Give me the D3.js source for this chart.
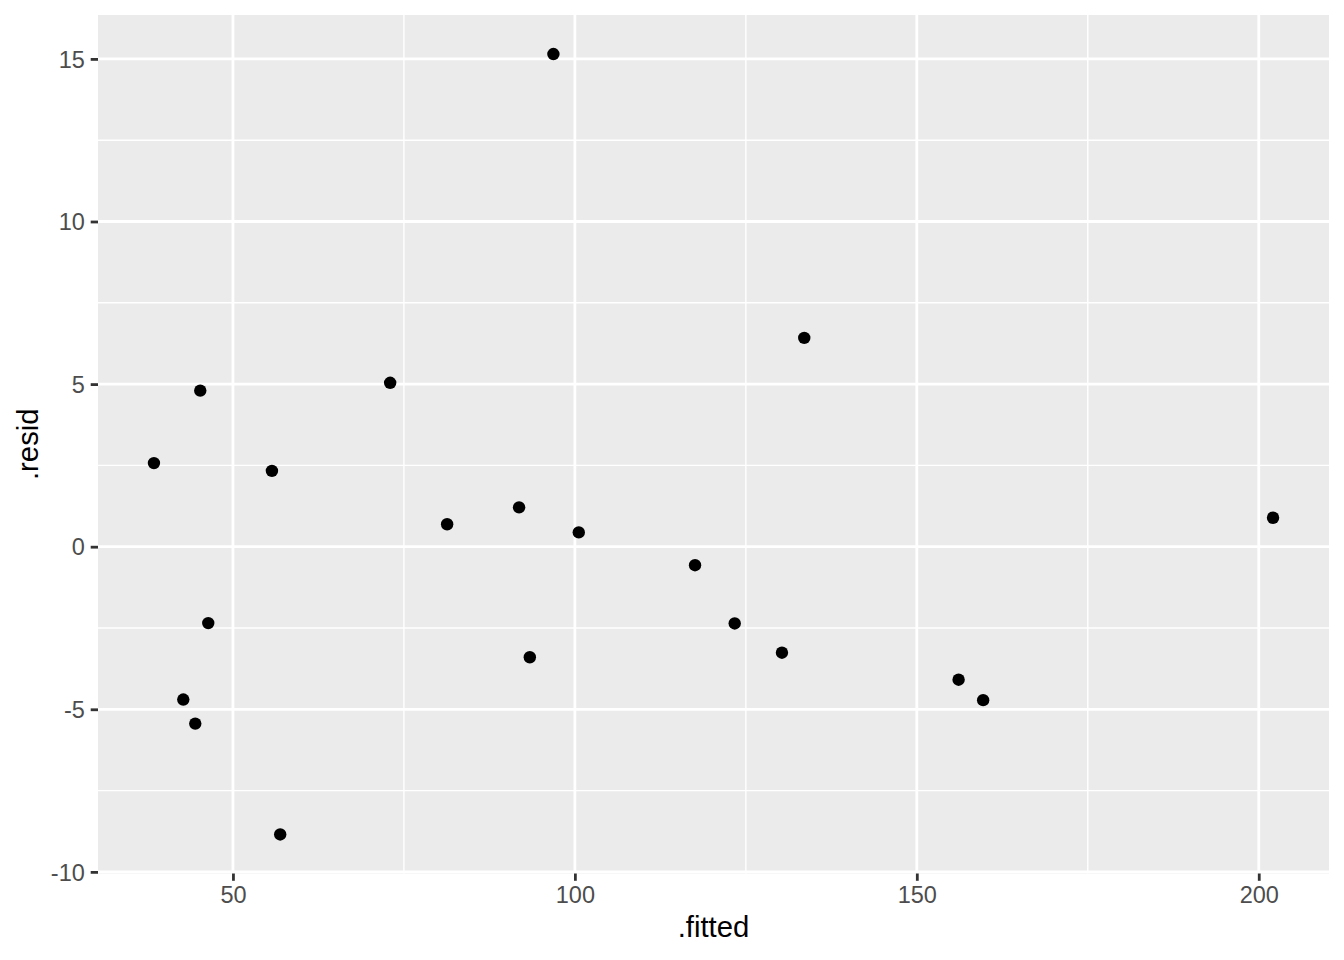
<!DOCTYPE html>
<html>
<head>
<meta charset="utf-8">
<script src="https://cdn.jsdelivr.net/npm/d3@7"></script>
<style>
  body { margin: 0; background: #fff; }
  text { font-family: "Liberation Sans", Arial, sans-serif; }
</style>
</head>
<body>
<svg id="chart"></svg>
<script>
const fitted = [38.45, 45.22, 55.70, 46.39, 42.74, 44.49, 56.91, 72.99, 81.32, 91.84,
                93.41, 96.86, 100.57, 117.57, 123.37, 130.28, 133.54, 156.11, 159.70, 202.09]
const resid = [2.57, 4.80, 2.33, -2.35, -4.70, -5.44, -8.85, 5.04, 0.69, 1.21,
               -3.40, 15.15, 0.44, -0.57, -2.36, -3.26, 6.42, -4.09, -4.72, 0.89]
const xTicks = [50, 100, 150, 200]
const xMinor = [75, 125, 175]
const yTicks = [-10, -5, 0, 5, 10, 15]
const yMinor = [-7.5, -2.5, 2.5, 7.5, 12.5]

const width = 1344
const height = 960
const panel = { left: 98, right: 1329, top: 15, bottom: 873.5 }

// ggplot style 5% expansion of the data range
const expand = (ext) => {
    const pad = (ext[1] - ext[0]) * 0.05
    return [ext[0] - pad, ext[1] + pad]
}

const x = d3.scaleLinear().domain(expand(d3.extent(fitted))).range([panel.left, panel.right])
const y = d3.scaleLinear().domain(expand(d3.extent(resid))).range([panel.bottom, panel.top])

const svg = d3.select('#chart').attr('width', width).attr('height', height)

svg.append('rect')
    .attr('x', panel.left).attr('y', panel.top)
    .attr('width', panel.right - panel.left).attr('height', panel.bottom - panel.top)
    .attr('fill', '#EBEBEB')

const grid = svg.append('g')
grid.selectAll('.xminor').data(xMinor).enter().append('line')
    .attr('x1', d => x(d)).attr('x2', d => x(d))
    .attr('y1', panel.top).attr('y2', panel.bottom)
    .attr('stroke', '#fff').attr('stroke-width', 1.4)
grid.selectAll('.yminor').data(yMinor).enter().append('line')
    .attr('y1', d => y(d)).attr('y2', d => y(d))
    .attr('x1', panel.left).attr('x2', panel.right)
    .attr('stroke', '#fff').attr('stroke-width', 1.4)
grid.selectAll('.xmajor').data(xTicks).enter().append('line')
    .attr('x1', d => x(d)).attr('x2', d => x(d))
    .attr('y1', panel.top).attr('y2', panel.bottom)
    .attr('stroke', '#fff').attr('stroke-width', 2.8)
grid.selectAll('.ymajor').data(yTicks).enter().append('line')
    .attr('y1', d => y(d)).attr('y2', d => y(d))
    .attr('x1', panel.left).attr('x2', panel.right)
    .attr('stroke', '#fff').attr('stroke-width', 2.8)

svg.append('g').selectAll('circle').data(fitted).enter().append('circle')
    .attr('cx', d => x(d))
    .attr('cy', (d, i) => y(resid[i]))
    .attr('r', 6.2)
    .attr('fill', '#000')

// axes
const xAxis = svg.append('g')
    .attr('transform', `translate(0,${panel.bottom})`)
    .call(d3.axisBottom(x).tickValues(xTicks).tickSize(7.3).tickPadding(5.9).tickFormat(d3.format('d')))
const yAxis = svg.append('g')
    .attr('transform', `translate(${panel.left},0)`)
    .call(d3.axisLeft(y).tickValues(yTicks).tickSize(7.3).tickPadding(5.9).tickFormat(d => d < 0 ? '-' + Math.abs(d) : d))

for (const ax of [xAxis, yAxis]) {
    ax.select('.domain').remove()
    ax.selectAll('line').attr('stroke', '#333333').attr('stroke-width', 2.8)
    ax.selectAll('text').attr('fill', '#4D4D4D').attr('font-size', 23.5)
        .attr('font-family', '"Liberation Sans", Arial, sans-serif')
}
yAxis.selectAll('text').attr('dy', '0.35em')

svg.append('text')
    .attr('x', (panel.left + panel.right) / 2).attr('y', 937)
    .attr('text-anchor', 'middle')
    .attr('font-size', 29.3)
    .attr('fill', '#000')
    .text('.fitted')

svg.append('text')
    .attr('transform', `translate(37.5,${(panel.top + panel.bottom) / 2}) rotate(-90)`)
    .attr('text-anchor', 'middle')
    .attr('font-size', 29.3)
    .attr('fill', '#000')
    .text('.resid')
</script>
</body>
</html>
